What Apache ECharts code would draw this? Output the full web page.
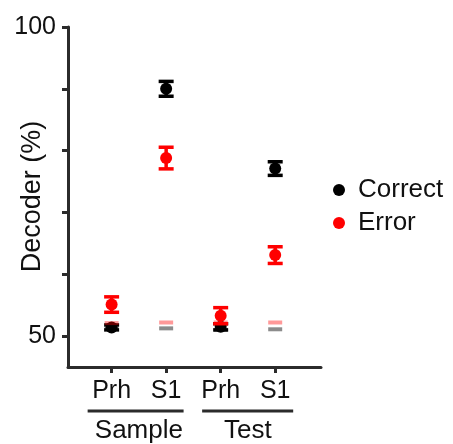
<!DOCTYPE html>
<html>
<head>
<meta charset="utf-8">
<script src="https://cdn.jsdelivr.net/npm/echarts@6/dist/echarts.min.js"></script>
<style>
html, body { margin: 0; padding: 0; background: #fff; }
#chart { width: 453px; height: 444px; }
</style>
</head>
<body>
<div id="chart"></div>
<script>
// conditions along x, grouped by epoch
var conditions = ['Prh', 'S1', 'Prh', 'S1'];
var positions = [1, 2, 3, 4];
var groups = ['Sample', 'Test'];
var groupCenters = [1.5, 3.5];

// decoder accuracy (%), mean and error
var correctMean = [51.4, 90.0, 51.5, 77.1];
var correctErr = [0.4, 1.2, 0.5, 1.1];
var errorMean = [55.1, 78.8, 53.3, 63.1];
var errorErr = [1.25, 1.75, 1.3, 1.35];

// shuffled / chance levels
var chanceCorrect = [51.2, 51.25, 51.0, 51.1];
var chanceError = [52.1, 52.2, 52.2, 52.2];

var yTicks = [50, 60, 70, 80, 90, 100];
var yLabels = [50, 100];

var axisColor = '#2b2b2b';
var textColor = '#111';
var font = 'Liberation Sans, Arial, sans-serif';
var xMin = 0.2, xMax = 4.84;

function points(means) {
    return positions.map(function (p, i) { return [p, means[i]]; });
}
function ranges(means, errs) {
    return positions.map(function (p, i) { return [p, means[i] - errs[i], means[i] + errs[i]]; });
}

function errorBar(color) {
    return function (params, api) {
        var x = api.value(0);
        var top = api.coord([x, api.value(2)]);
        var bot = api.coord([x, api.value(1)]);
        var hw = 7.5;
        var st = { stroke: color, lineWidth: 3.5 };
        return {
            type: 'group',
            children: [
                { type: 'line', shape: { x1: top[0], y1: top[1], x2: bot[0], y2: bot[1] }, style: st },
                { type: 'line', shape: { x1: top[0] - hw, y1: top[1], x2: top[0] + hw, y2: top[1] }, style: st },
                { type: 'line', shape: { x1: bot[0] - hw, y1: bot[1], x2: bot[0] + hw, y2: bot[1] }, style: st }
            ]
        };
    };
}

function chanceBar(color) {
    return function (params, api) {
        var c = api.coord([api.value(0), api.value(1)]);
        return {
            type: 'line',
            shape: { x1: c[0] - 7, y1: c[1], x2: c[0] + 7, y2: c[1] },
            style: { stroke: color, lineWidth: 4 }
        };
    };
}

var chartDom = document.getElementById('chart');
var myChart = echarts.init(chartDom);

var option = {
    animation: false,
    textStyle: { fontFamily: font },
    grid: {
        left: 68,
        right: 132,
        top: 27,
        bottom: 77,
        containLabel: false,
        outerBoundsMode: 'none'
    },
    legend: {
        orient: 'vertical',
        left: 328,
        top: 172,
        itemWidth: 28,
        itemHeight: 12,
        itemGap: 7,
        icon: 'circle',
        data: ['Correct', 'Error'],
        textStyle: { fontSize: 26, color: textColor, fontFamily: font }
    },
    xAxis: [
        {
            type: 'value',
            min: xMin,
            max: xMax,
            position: 'bottom',
            splitLine: { show: false },
            axisLine: { show: true, lineStyle: { color: axisColor, width: 3 } },
            axisTick: { show: true, length: 6, customValues: positions, lineStyle: { color: axisColor, width: 3 } },
            axisLabel: {
                customValues: positions,
                formatter: function (v) { return conditions[positions.indexOf(v)]; },
                margin: 12,
                fontSize: 25,
                color: textColor
            }
        },
        {
            type: 'value',
            min: xMin,
            max: xMax,
            position: 'bottom',
            offset: 0,
            splitLine: { show: false },
            axisLine: { show: false },
            axisTick: { show: false },
            axisLabel: {
                customValues: groupCenters,
                formatter: function (v) { return groups[groupCenters.indexOf(v)]; },
                margin: 51,
                fontSize: 26,
                color: textColor
            }
        }
    ],
    yAxis: {
        type: 'value',
        min: 45,
        max: 100,
        interval: 5,
        name: 'Decoder (%)',
        nameLocation: 'middle',
        nameGap: 22,
        nameRotate: 90,
        nameMoveOverlap: false,
        nameTextStyle: { fontSize: 27, color: textColor, fontFamily: font, padding: [0, 0, 0, 1] },
        splitLine: { show: false },
        axisLine: { show: true, lineStyle: { color: axisColor, width: 3 } },
        axisTick: { show: true, length: 6, customValues: yTicks, lineStyle: { color: axisColor, width: 3 } },
        axisLabel: {
            customValues: yLabels,
            margin: 12,
            fontSize: 25,
            color: textColor
        }
    },
    series: [
        {
            name: 'Correct',
            type: 'scatter',
            symbol: 'circle',
            symbolSize: 12,
            itemStyle: { color: '#000000', opacity: 1 },
            data: points(correctMean),
            z: 3
        },
        {
            name: 'correctErr',
            type: 'custom',
            renderItem: errorBar('#000000'),
            data: ranges(correctMean, correctErr),
            z: 3
        },
        {
            name: 'Error',
            type: 'scatter',
            symbol: 'circle',
            symbolSize: 12,
            itemStyle: { color: '#ff0000', opacity: 1 },
            data: points(errorMean),
            z: 4
        },
        {
            name: 'errorErr',
            type: 'custom',
            renderItem: errorBar('#ff0000'),
            data: ranges(errorMean, errorErr),
            z: 4
        },
        {
            name: 'chanceCorrect',
            type: 'custom',
            renderItem: chanceBar('rgba(0,0,0,0.45)'),
            data: points(chanceCorrect),
            z: 5
        },
        {
            name: 'chanceError',
            type: 'custom',
            renderItem: chanceBar('rgba(255,0,0,0.4)'),
            data: points(chanceError),
            z: 5
        }
    ]
};

myChart.setOption(option);

// group underlines below the condition labels
var baseY = myChart.convertToPixel({ yAxisIndex: 0 }, 45) + 44;
var spans = [[0.56, 2.32], [2.66, 4.33]];
myChart.setOption({
    graphic: spans.map(function (s) {
        return {
            type: 'line',
            shape: {
                x1: myChart.convertToPixel({ xAxisIndex: 0 }, s[0]),
                y1: baseY,
                x2: myChart.convertToPixel({ xAxisIndex: 0 }, s[1]),
                y2: baseY
            },
            style: { stroke: axisColor, lineWidth: 3 }
        };
    })
});
</script>
</body>
</html>
